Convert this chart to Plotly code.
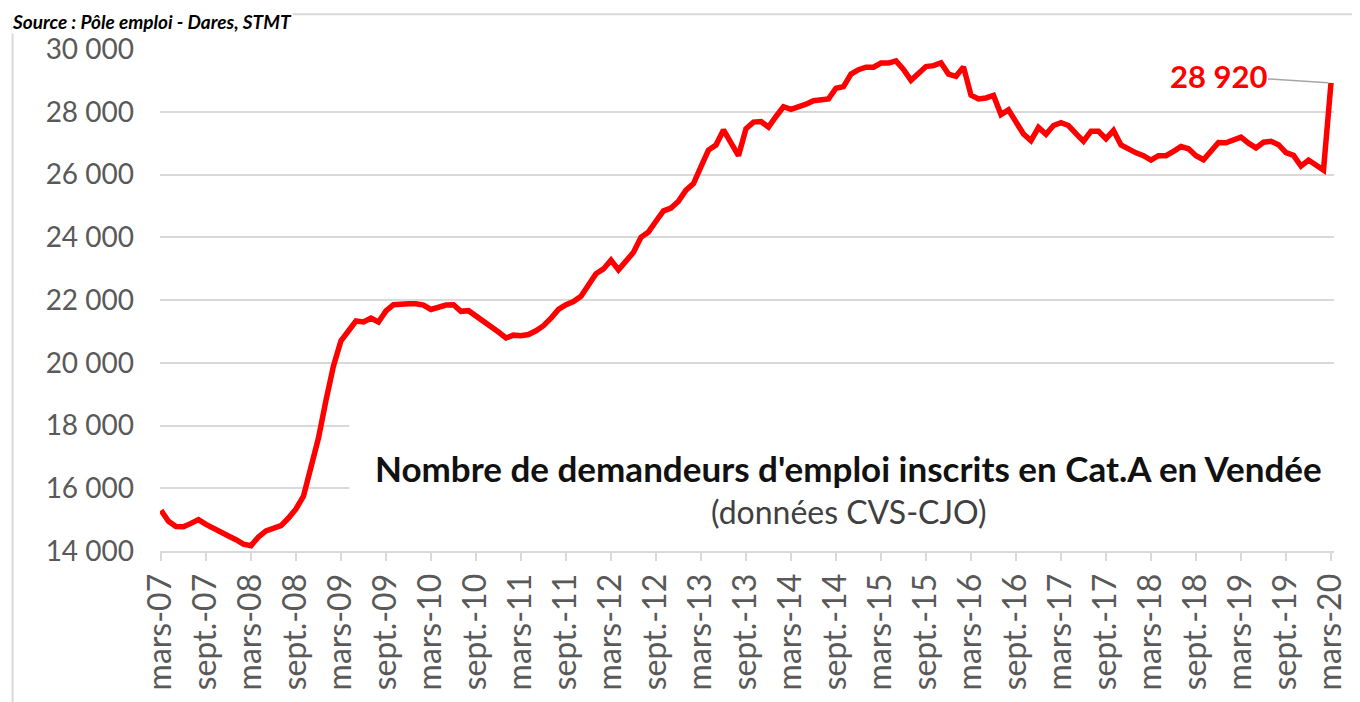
import plotly.graph_objects as go

# ---- data (monthly, mars-07 .. mars-20) ----
month_index = list(range(157))
demandeurs = [
    15300, 14950, 14780, 14770, 14880, 15000, 14850, 14740, 14620, 14480,
    14360, 14220, 14170, 14450, 14640, 14740, 14810, 15050, 15340, 15750,
    16750, 17600, 18800, 19900, 20700, 21050, 21330, 21300, 21420, 21300,
    21650, 21850, 21880, 21880, 21880, 21840, 21700, 21780, 21840, 21850,
    21640, 21660, 21500, 21350, 21170, 20980, 20790, 20880, 20860, 20900,
    21020, 21180, 21420, 21700, 21850, 21950, 22120, 22480, 22840, 22990,
    23270, 22960, 23270, 23520, 24000, 24170, 24510, 24840, 24930, 25150,
    25500, 25710, 26250, 26780, 26940, 27420, 27010, 26600, 27460, 27670,
    27690, 27510, 27850, 28160, 28080, 28150, 28240, 28350, 28390, 28410,
    28750, 28800, 29200, 29340, 29420, 29420, 29550, 29550, 29620, 29350,
    29000, 29210, 29440, 29470, 29560, 29200, 29130, 29430, 28530, 28410,
    28440, 28520, 27910, 28060, 27690, 27290, 27080, 27500, 27280, 27560,
    27650, 27560, 27300, 27060, 27380, 27380, 27140, 27400, 26940, 26790,
    26690, 26600, 26460, 26600, 26600, 26740, 26890, 26820, 26600, 26470,
    26720, 27020, 27010, 27090, 27190, 27000, 26850, 27030, 27060, 26950,
    26700, 26610, 26270, 26460, 26300, 26140, 28920,
]
x_tick_labels = [
    "mars-07", "sept.-07", "mars-08", "sept.-08", "mars-09", "sept.-09",
    "mars-10", "sept.-10", "mars-11", "sept.-11", "mars-12", "sept.-12",
    "mars-13", "sept.-13", "mars-14", "sept.-14", "mars-15", "sept.-15",
    "mars-16", "sept.-16", "mars-17", "sept.-17", "mars-18", "sept.-18",
    "mars-19", "sept.-19", "mars-20",
]
x_tick_vals = list(range(0, 157, 6))
y_tick_vals = [14000, 16000, 18000, 20000, 22000, 24000, 26000, 28000, 30000]
y_tick_labels = ["14 000", "16 000", "18 000", "20 000", "22 000",
                 "24 000", "26 000", "28 000", "30 000"]
last_label = "28 920"
title_text = "Nombre de demandeurs d'emploi inscrits en Cat.A en Vendée"
subtitle_text = "(données CVS-CJO)"
source_text = "Source : Pôle emploi - Dares, STMT"

FONT = "Lato"
GRAY = "#595959"
GRID = "#d9d9d9"

fig = go.Figure()
fig.add_trace(go.Scatter(
    x=month_index, y=demandeurs, mode="lines",
    line=dict(color="#ff0000", width=5.5, shape="linear"),
    hoverinfo="skip", showlegend=False,
))

# white text box hiding part of the gridlines
fig.add_shape(type="rect", xref="paper", yref="paper",
              x0=0.1613, x1=1.02, y0=0.03, y1=0.27,
              fillcolor="white", line=dict(width=0), layer="above")

# outer chart frame
fig.add_shape(type="rect", xref="paper", yref="paper",
              x0=-0.1256, x1=1.1, y0=-0.5, y1=1.0694,
              fillcolor="rgba(0,0,0,0)", line=dict(color=GRID, width=2),
              layer="above")

fig.add_annotation(xref="paper", yref="paper", x=0.5866, y=0.1647,
                   text="<b>" + title_text + "</b>", showarrow=False,
                   xanchor="center", yanchor="middle",
                   font=dict(family=FONT, size=35, color="#111111"))
fig.add_annotation(xref="paper", yref="paper", x=0.5866, y=0.0794,
                   text=subtitle_text, showarrow=False,
                   xanchor="center", yanchor="middle",
                   font=dict(family=FONT, size=32, color="#404040"))
fig.add_annotation(xref="paper", yref="paper", x=-0.1265, y=1.0794,
                   text="<b><i>" + source_text + "</i></b>", showarrow=False,
                   xanchor="left", yanchor="top", bgcolor="white",
                   borderpad=0,
                   font=dict(family=FONT, size=19, color="#000000"))

fig.add_annotation(x=month_index[-1], y=demandeurs[-1],
                   text="<b>" + last_label + "</b>",
                   showarrow=True, arrowhead=0, arrowwidth=1.5,
                   arrowcolor="#a6a6a6", ax=-113, ay=-7, standoff=3,
                   font=dict(family=FONT, size=31, color="#ff0000"))

# the page body adds an 8 px offset: figure is 8 px smaller and shifted
fig.update_layout(
    width=1352, height=694,
    margin=dict(l=152, r=22, t=41, b=149),
    paper_bgcolor="white", plot_bgcolor="white",
    showlegend=False,
    xaxis=dict(
        range=[-0.13, 156.4], tickmode="array", tickvals=x_tick_vals,
        ticktext=x_tick_labels, tickangle=-90, ticks="outside", ticklen=8,
        tickwidth=2, tickcolor=GRID, showline=True, linecolor=GRID,
        linewidth=2, showgrid=False, zeroline=False,
        tickfont=dict(family=FONT, size=32, color=GRAY),
    ),
    yaxis=dict(
        range=[14000, 30000], tickmode="array", tickvals=y_tick_vals,
        ticktext=y_tick_labels, showgrid=True, gridcolor=GRID, gridwidth=2,
        zeroline=False, showline=False, ticks="",
        ticklabelstandoff=25,
        tickfont=dict(family=FONT, size=28, color=GRAY),
    ),
)

fig.write_html("out.html")
